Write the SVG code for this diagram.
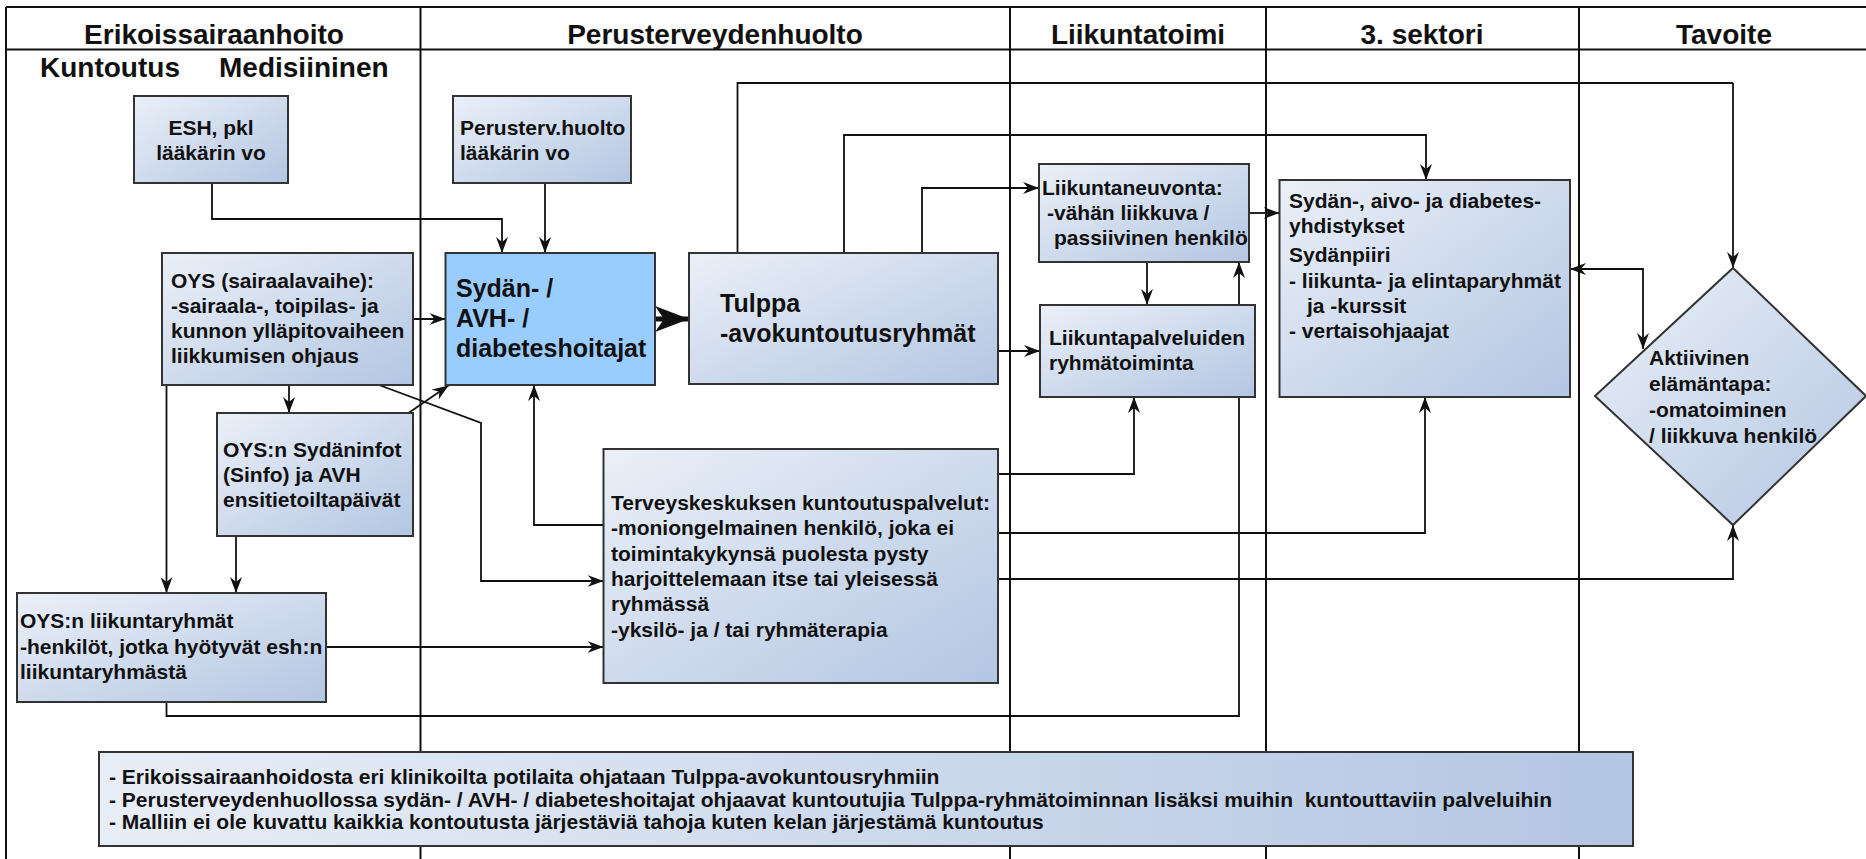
<svg xmlns="http://www.w3.org/2000/svg" width="1866" height="859" viewBox="0 0 1866 859">
<style>
text{font-family:"Liberation Sans",Arial,sans-serif;font-weight:bold;fill:#111}
.hd{font-size:28px;text-anchor:middle}
.sh{font-size:28px}
.t{font-size:21px}
.tb{font-size:25px}
.nt{font-size:21px}
.box{fill:url(#g);stroke:#333;stroke-width:2}
.lane{stroke:#111;stroke-width:2;fill:none}
.c{stroke:#111;stroke-width:1.8;fill:none;marker-end:url(#arr)}
.cn{stroke:#111;stroke-width:1.8;fill:none}
</style>
<defs>
<linearGradient id="g" x1="0" y1="0" x2="1" y2="1">
<stop offset="0" stop-color="#ebf0f8"/>
<stop offset="1" stop-color="#b3c6e2"/>
</linearGradient>
<linearGradient id="gn" x1="0" y1="0" x2="1" y2="0">
<stop offset="0" stop-color="#e8eef7"/>
<stop offset="1" stop-color="#b3c6e2"/>
</linearGradient>
<marker id="arr" viewBox="0 0 16 12" refX="16" refY="6" markerWidth="16" markerHeight="12" markerUnits="userSpaceOnUse" orient="auto-start-reverse">
<path d="M0,0 L16,6 L0,12 L5,6 z" fill="#111"/>
</marker>
<marker id="big" viewBox="0 0 34 26" refX="34" refY="13" markerWidth="34" markerHeight="26" markerUnits="userSpaceOnUse" orient="auto">
<path d="M0,0 L34,13 L0,26 L9,13 z" fill="#111"/>
</marker>
</defs>
<rect width="1866" height="859" fill="#fff"/>

<g id="lanes">
<line class="lane" x1="6" y1="7" x2="1866" y2="7"/>
<line class="lane" x1="6" y1="49.5" x2="1866" y2="49.5"/>
<line class="lane" x1="6" y1="7" x2="6" y2="859"/>
<line class="lane" x1="420.5" y1="7" x2="420.5" y2="859"/>
<line class="lane" x1="1010" y1="7" x2="1010" y2="859"/>
<line class="lane" x1="1266" y1="7" x2="1266" y2="859"/>
<line class="lane" x1="1579" y1="7" x2="1579" y2="859"/>
<text class="hd" x="214" y="44">Erikoissairaanhoito</text>
<text class="hd" x="715" y="44">Perusterveydenhuolto</text>
<text class="hd" x="1138" y="44">Liikuntatoimi</text>
<text class="hd" x="1422" y="44">3. sektori</text>
<text class="hd" x="1724" y="44">Tavoite</text>
<text class="sh" x="40" y="77">Kuntoutus</text>
<text class="sh" x="219" y="77">Medisiininen</text>
</g>

<g id="connectors">
<path class="c" d="M212,183 V219 H502 V253"/>
<path class="c" d="M545,183 V253"/>
<path class="c" d="M413,319 H445.5"/>
<path d="M655,319 H689" stroke="#111" stroke-width="5" fill="none" marker-end="url(#big)"/>
<path class="c" d="M289,385 V413"/>
<path class="c" d="M408.5,413 L448.5,385.5"/>
<path class="c" d="M379,385 L481,423 V581 H603.5"/>
<path class="c" d="M166.5,385 V593"/>
<path class="c" d="M236,536 V593"/>
<path class="c" d="M326,647 H603.5"/>
<path class="c" d="M166.5,702 V716 H1239 V262"/>
<path class="c" d="M603.5,525 H534 V385"/>
<path class="cn" d="M737.5,253 V83 H1733"/>
<path class="c" d="M1733,83 V268"/>
<path class="c" d="M844,253 V135 H1426 V180"/>
<path class="c" d="M922,253 V188 H1039"/>
<path class="c" d="M1249,213 H1279.5"/>
<path class="c" d="M998,351 H1040"/>
<path class="c" d="M1147,262 V305"/>
<path class="c" d="M998,474 H1134 V397"/>
<path class="c" d="M998,533 H1425 V397"/>
<path class="c" d="M998,579 H1733 V525"/>
<path class="c" d="M1643,349 V269 H1570" style="marker-start:url(#arr)"/>
</g>

<g id="esh">
<rect class="box" x="134" y="96" width="154" height="87"/>
<text class="t" x="211" y="135" text-anchor="middle">ESH, pkl</text>
<text class="t" x="211" y="160" text-anchor="middle">lääkärin vo</text>
</g>

<g id="perusterv">
<rect class="box" x="453" y="96" width="178" height="87"/>
<text class="t" x="460" y="135">Perusterv.huolto</text>
<text class="t" x="460" y="160">lääkärin vo</text>
</g>

<g id="oys">
<rect class="box" x="162" y="253" width="251" height="132"/>
<text class="t" x="171" y="288">OYS (sairaalavaihe):</text>
<text class="t" x="171" y="313">-sairaala-, toipilas- ja</text>
<text class="t" x="171" y="338">kunnon ylläpitovaiheen</text>
<text class="t" x="171" y="363">liikkumisen ohjaus</text>
</g>

<g id="sydan">
<rect x="445.5" y="253" width="209.5" height="132" fill="#99ccff" stroke="#333" stroke-width="2"/>
<text class="tb" x="456" y="297">Sydän- /</text>
<text class="tb" x="456" y="327">AVH- /</text>
<text class="tb" x="456" y="357">diabeteshoitajat</text>
</g>

<g id="tulppa">
<rect class="box" x="689" y="253" width="309" height="131"/>
<text class="tb" x="720" y="312">Tulppa</text>
<text class="tb" x="720" y="342">-avokuntoutusryhmät</text>
</g>

<g id="sinfo">
<rect class="box" x="217" y="413" width="196" height="123"/>
<text class="t" x="223" y="457">OYS:n Sydäninfot</text>
<text class="t" x="223" y="482">(Sinfo) ja AVH</text>
<text class="t" x="223" y="507">ensitietoiltapäivät</text>
</g>

<g id="oysliikunta">
<rect class="box" x="17" y="593" width="309" height="109"/>
<text class="t" x="20" y="628">OYS:n liikuntaryhmät</text>
<text class="t" x="20" y="654">-henkilöt, jotka hyötyvät esh:n</text>
<text class="t" x="20" y="679">liikuntaryhmästä</text>
</g>

<g id="terveys">
<rect class="box" x="603.5" y="449" width="394.5" height="234"/>
<text class="t" x="611" y="510">Terveyskeskuksen kuntoutuspalvelut:</text>
<text class="t" x="611" y="535">-moniongelmainen henkilö, joka ei</text>
<text class="t" x="611" y="561">toimintakykynsä puolesta pysty</text>
<text class="t" x="611" y="586">harjoittelemaan itse tai yleisessä</text>
<text class="t" x="611" y="611">ryhmässä</text>
<text class="t" x="611" y="637">-yksilö- ja / tai ryhmäterapia</text>
</g>

<g id="neuvonta">
<rect class="box" x="1039" y="164" width="210" height="98"/>
<text class="t" x="1042" y="195">Liikuntaneuvonta:</text>
<text class="t" x="1047" y="220">-vähän liikkuva /</text>
<text class="t" x="1054" y="245">passiivinen henkilö</text>
</g>

<g id="palvelut">
<rect class="box" x="1040" y="305" width="215" height="92"/>
<text class="t" x="1049" y="345">Liikuntapalveluiden</text>
<text class="t" x="1049" y="370">ryhmätoiminta</text>
</g>

<g id="yhdistykset">
<rect class="box" x="1279.5" y="180" width="290.5" height="217"/>
<text class="t" x="1289" y="208">Sydän-, aivo- ja diabetes-</text>
<text class="t" x="1289" y="233">yhdistykset</text>
<text class="t" x="1289" y="262">Sydänpiiri</text>
<text class="t" x="1289" y="288">- liikunta- ja elintaparyhmät</text>
<text class="t" x="1307" y="313">ja -kurssit</text>
<text class="t" x="1289" y="338">- vertaisohjaajat</text>
</g>

<g id="aktiivinen">
<polygon class="box" points="1733,268 1866,396 1733,525 1595,396"/>
<text class="t" x="1649" y="365">Aktiivinen</text>
<text class="t" x="1649" y="391">elämäntapa:</text>
<text class="t" x="1649" y="417">-omatoiminen</text>
<text class="t" x="1649" y="443">/ liikkuva henkilö</text>
</g>

<g id="notes">
<rect x="99" y="752" width="1534" height="94" fill="url(#gn)" stroke="#333" stroke-width="2"/>
<text class="nt" x="109" y="784">- Erikoissairaanhoidosta eri klinikoilta potilaita ohjataan Tulppa-avokuntousryhmiin</text>
<text class="nt" x="109" y="806.5" xml:space="preserve">- Perusterveydenhuollossa sydän- / AVH- / diabeteshoitajat ohjaavat kuntoutujia Tulppa-ryhmätoiminnan lisäksi muihin  kuntouttaviin palveluihin</text>
<text class="nt" x="109" y="829">- Malliin ei ole kuvattu kaikkia kontoutusta järjestäviä tahoja kuten kelan järjestämä kuntoutus</text>
</g>
</svg>
